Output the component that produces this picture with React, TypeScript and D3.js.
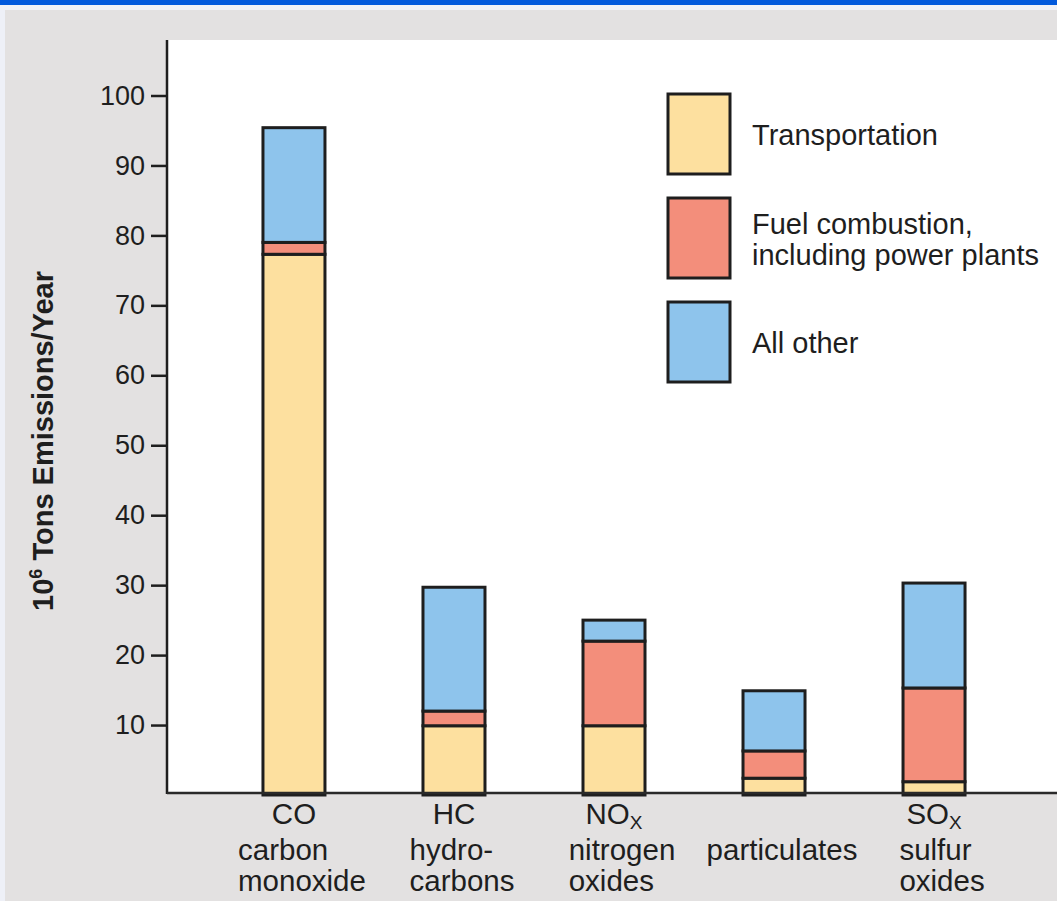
import { useEffect, useRef } from "react";
import * as d3 from "d3";

// categories along the x axis
const categories = ["CO", "HC", "NOx", "particulates", "SOx"];
const formulas = ["CO", "HC", "NO", "", "SO"];
const formulaSubs = ["", "", "X", "", "X"];
const nameLines = [
  ["carbon", "monoxide"],
  ["hydro-", "carbons"],
  ["nitrogen", "oxides"],
  ["particulates", ""],
  ["sulfur", "oxides"],
];

// 10^6 tons per year
const transportation = [77.3, 9.9, 9.9, 2.4, 1.9];
const fuelCombustion = [1.7, 2.1, 12.1, 3.9, 13.4];
const allOther = [16.4, 17.7, 3.0, 8.6, 15.0];

const seriesKeys = ["transportation", "fuel", "other"];
const legendLabels = [["Transportation"], ["Fuel combustion,", "including power plants"], ["All other"]];
const colors = ["#fde09f", "#f38e7b", "#8ec4ec"];
const yTicks = [10, 20, 30, 40, 50, 60, 70, 80, 90, 100];

const W = 1057;
const H = 901;
const FONT = "'Liberation Sans', Arial, sans-serif";

export default function App() {
  const ref = useRef<SVGSVGElement | null>(null);

  useEffect(() => {
    if (!ref.current) return;
    const svg = d3.select(ref.current);
    svg.selectAll("*").remove();

    const plotLeft = 167;
    const plotTop = 40;
    const zeroY = 795;

    // background
    svg.append("rect").attr("width", W).attr("height", H).attr("fill", "#eef0f7");
    svg.append("rect").attr("width", W).attr("height", 5).attr("fill", "#0058dc");
    svg.append("rect").attr("x", 5).attr("y", 10).attr("width", W - 5).attr("height", H - 10).attr("fill", "#e3e1e1");
    svg
      .append("rect")
      .attr("x", plotLeft)
      .attr("y", plotTop)
      .attr("width", W - plotLeft)
      .attr("height", zeroY - plotTop - 2)
      .attr("fill", "#ffffff");

    const table = categories.map((c, i) => ({
      cat: c,
      transportation: transportation[i],
      fuel: fuelCombustion[i],
      other: allOther[i],
    }));

    const series = d3.stack<any>().keys(seriesKeys)(table);

    const x = d3
      .scaleBand()
      .domain(categories)
      .range([214, 1014])
      .paddingInner(0.6125)
      .paddingOuter(0.306);

    const y = d3.scaleLinear().domain([0, 100]).range([zeroY, 95.5]);

    const color = d3.scaleOrdinal<string, string>().domain(seriesKeys).range(colors);

    // bars
    svg
      .append("g")
      .selectAll("g")
      .data(series)
      .join("g")
      .attr("fill", (d) => color(d.key))
      .selectAll("rect")
      .data((D) => D)
      .join("rect")
      .attr("x", (d: any) => x(d.data.cat)!)
      .attr("y", (d) => y(d[1]))
      .attr("width", x.bandwidth())
      .attr("height", (d) => y(d[0]) - y(d[1]))
      .attr("stroke", "#1e1e1e")
      .attr("stroke-width", 3);

    // y axis
    const yAxis = svg
      .append("g")
      .attr("transform", `translate(${plotLeft},0)`)
      .call(d3.axisLeft(y).tickValues(yTicks).tickSize(16).tickPadding(6).tickFormat(d3.format("d")));
    yAxis.select(".domain").remove();
    yAxis.selectAll(".tick line").attr("stroke", "#1e1e1e").attr("stroke-width", 2.5);
    yAxis
      .selectAll(".tick text")
      .attr("fill", "#1e1e1e")
      .attr("font-size", 27)
      .attr("font-family", FONT);

    svg
      .append("line")
      .attr("x1", plotLeft)
      .attr("x2", plotLeft)
      .attr("y1", plotTop)
      .attr("y2", zeroY - 1)
      .attr("stroke", "#1e1e1e")
      .attr("stroke-width", 2.5);
    svg
      .append("line")
      .attr("x1", plotLeft)
      .attr("x2", W)
      .attr("y1", zeroY - 2)
      .attr("y2", zeroY - 2)
      .attr("stroke", "#2a2a2a")
      .attr("stroke-width", 2.5);

    // y title
    const title = svg
      .append("text")
      .attr("transform", `translate(53,441) rotate(-90)`)
      .attr("text-anchor", "middle")
      .attr("font-family", FONT)
      .attr("font-weight", "bold")
      .attr("font-size", 29)
      .attr("fill", "#1e1e1e");
    title.append("tspan").text("10");
    title.append("tspan").attr("font-size", 18).attr("dy", -11).text("6");
    title.append("tspan").attr("dy", 11).text(" Tons Emissions/Year");

    // category labels
    const labels = svg
      .append("g")
      .attr("font-family", FONT)
      .attr("font-size", 29.5)
      .attr("fill", "#1e1e1e");
    categories.forEach((c, i) => {
      const cx = x(c)! + x.bandwidth() / 2;
      if (formulas[i]) {
        const t = labels.append("text").attr("x", cx).attr("y", 824).attr("text-anchor", "middle");
        t.append("tspan").text(formulas[i]);
        if (formulaSubs[i]) t.append("tspan").attr("font-size", 19).attr("dy", 5).text(formulaSubs[i]);
      }
      const lines = nameLines[i].filter((s) => s);
      const nodes = lines.map((s, j) =>
        labels
          .append("text")
          .attr("y", 860 + j * 31)
          .text(s)
      );
      const widest = d3.max(nodes, (n) => (n.node() as SVGTextElement).getComputedTextLength()) ?? 0;
      nodes.forEach((n) => n.attr("x", cx - widest / 2 + 8));
    });

    // legend
    const legend = svg.append("g").attr("font-family", FONT).attr("font-size", 29).attr("fill", "#1e1e1e");
    seriesKeys.forEach((k, i) => {
      const top = 94 + i * 104;
      legend
        .append("rect")
        .attr("x", 668)
        .attr("y", top)
        .attr("width", 62)
        .attr("height", 80)
        .attr("fill", color(k))
        .attr("stroke", "#1e1e1e")
        .attr("stroke-width", 3);
      const lines = legendLabels[i];
      const mid = top + 40;
      lines.forEach((s, j) => {
        legend
          .append("text")
          .attr("x", 752)
          .attr("y", mid + 11 + (j - (lines.length - 1) / 2) * 31)
          .text(s);
      });
    });
  }, []);

  return (
    <svg
      ref={ref}
      width={W}
      height={H}
      viewBox={`0 0 ${W} ${H}`}
      style={{ position: "absolute", left: 0, top: 0, display: "block" }}
    />
  );
}
